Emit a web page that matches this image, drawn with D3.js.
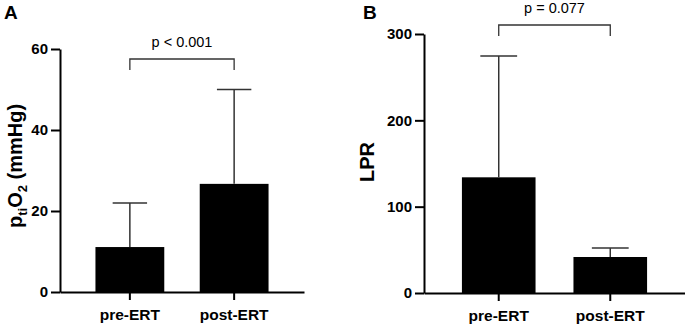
<!DOCTYPE html>
<html>
<head>
<meta charset="utf-8">
<script src="https://cdn.jsdelivr.net/npm/d3@7"></script>
<style>
    body { margin: 0; background: #fff; }
    svg { font-family: "Liberation Sans", Arial, sans-serif; }
</style>
</head>
<body>
<svg id="chart" width="685" height="324"></svg>
<script>
// groups on the x axis
const groups = ["pre-ERT", "post-ERT"];

// panel A: tissue oxygen, mean and SD
const ptiO2Mean = [11.1, 26.7];
const ptiO2SD = [10.9, 23.3];
const ptiO2Ticks = [0, 20, 40, 60];

// panel B: lactate/pyruvate ratio, mean and SD
const lprMean = [134, 41.7];
const lprSD = [140.5, 10.3];
const lprTicks = [0, 100, 200, 300];

const pLabels = ["p < 0.001", "p = 0.077"];

let svg = d3.select("#chart");

function drawPanel(opts) {
    let g = svg.append('g');

    let yScale = d3.scaleLinear()
        .domain([0, opts.ticks[opts.ticks.length - 1]])
        .range([opts.bottom, opts.top]);

    let xScale = d3.scaleBand()
        .domain(groups)
        .range([opts.left, opts.right])
        .paddingInner(0.34)
        .paddingOuter(0.34);

    // bars
    g.append('g')
        .selectAll('rect')
        .data(groups)
        .join('rect')
        .attr('x', d => xScale(d))
        .attr('y', (d, i) => yScale(opts.mean[i]))
        .attr('width', xScale.bandwidth())
        .attr('height', (d, i) => yScale(0) - yScale(opts.mean[i]))
        .attr('fill', '#000');

    // error bars (upper only)
    let cap = xScale.bandwidth() / 4;
    let err = g.append('g')
        .attr('stroke', '#333')
        .attr('stroke-width', 1.5);
    err.selectAll('line.stem')
        .data(groups)
        .join('line')
        .attr('class', 'stem')
        .attr('x1', d => xScale(d) + xScale.bandwidth() / 2)
        .attr('x2', d => xScale(d) + xScale.bandwidth() / 2)
        .attr('y1', (d, i) => yScale(opts.mean[i]))
        .attr('y2', (d, i) => yScale(opts.mean[i] + opts.sd[i]));
    err.selectAll('line.cap')
        .data(groups)
        .join('line')
        .attr('class', 'cap')
        .attr('x1', d => xScale(d) + xScale.bandwidth() / 2 - cap)
        .attr('x2', d => xScale(d) + xScale.bandwidth() / 2 + cap)
        .attr('y1', (d, i) => yScale(opts.mean[i] + opts.sd[i]))
        .attr('y2', (d, i) => yScale(opts.mean[i] + opts.sd[i]));

    // axes
    let yAxis = d3.axisLeft(yScale)
        .tickValues(opts.ticks)
        .tickSize(9)
        .tickSizeOuter(0)
        .tickPadding(3);
    let xAxis = d3.axisBottom(xScale)
        .tickSize(8)
        .tickSizeOuter(0)
        .tickPadding(9);

    g.append('g')
        .attr('transform', `translate(0,${opts.bottom})`)
        .call(xAxis)
        .call(a => a.selectAll('path, line').attr('stroke', '#000').attr('stroke-width', 2))
        .call(a => a.selectAll('text')
            .attr('fill', '#000')
            .style('font-size', '15.5px')
            .style('font-weight', 'bold'));

    g.append('g')
        .attr('transform', `translate(${opts.left},0)`)
        .call(yAxis)
        .call(a => a.selectAll('path, line').attr('stroke', '#000').attr('stroke-width', 2))
        .call(a => a.selectAll('text')
            .attr('fill', '#000')
            .style('font-size', '15px')
            .style('font-weight', 'bold'));

    // significance bracket
    let x1 = xScale(groups[0]) + xScale.bandwidth() / 2;
    let x2 = xScale(groups[1]) + xScale.bandwidth() / 2;
    g.append('path')
        .attr('d', `M${x1},${opts.bracketY + 11}V${opts.bracketY}H${x2}V${opts.bracketY + 11}`)
        .attr('fill', 'none')
        .attr('stroke', '#333')
        .attr('stroke-width', 1.3);
    g.append('text')
        .attr('x', (x1 + x2) / 2)
        .attr('y', opts.bracketY - 12)
        .attr('text-anchor', 'middle')
        .style('font-size', '14.5px')
        .text(opts.pText);

    // panel letter
    g.append('text')
        .attr('x', opts.letterX)
        .attr('y', opts.letterY)
        .style('font-size', '19px')
        .style('font-weight', 'bold')
        .text(opts.letter);

    return g;
}

let gA = drawPanel({
    mean: ptiO2Mean, sd: ptiO2SD, ticks: ptiO2Ticks,
    top: 49, bottom: 292, left: 60, right: 304,
    bracketY: 59, pText: pLabels[0],
    letter: "A", letterX: 4, letterY: 19
});

let gB = drawPanel({
    mean: lprMean, sd: lprSD, ticks: lprTicks,
    top: 34, bottom: 293, left: 424, right: 685,
    bracketY: 25, pText: pLabels[1],
    letter: "B", letterX: 363, letterY: 19
});

// y axis titles
let titleA = gA.append('text')
    .attr('transform', 'translate(22,166) rotate(-90)')
    .attr('text-anchor', 'middle')
    .style('font-size', '20px')
    .style('font-weight', 'bold');
titleA.append('tspan').text('p');
titleA.append('tspan').attr('dy', 5).style('font-size', '13px').text('ti');
titleA.append('tspan').attr('dy', -5).text('O');
titleA.append('tspan').attr('dy', 5).style('font-size', '13px').text('2');
titleA.append('tspan').attr('dy', -5).text(' (mmHg)');

gB.append('text')
    .attr('transform', 'translate(374,162) rotate(-90)')
    .attr('text-anchor', 'middle')
    .style('font-size', '20px')
    .style('font-weight', 'bold')
    .text('LPR');
</script>
</body>
</html>
